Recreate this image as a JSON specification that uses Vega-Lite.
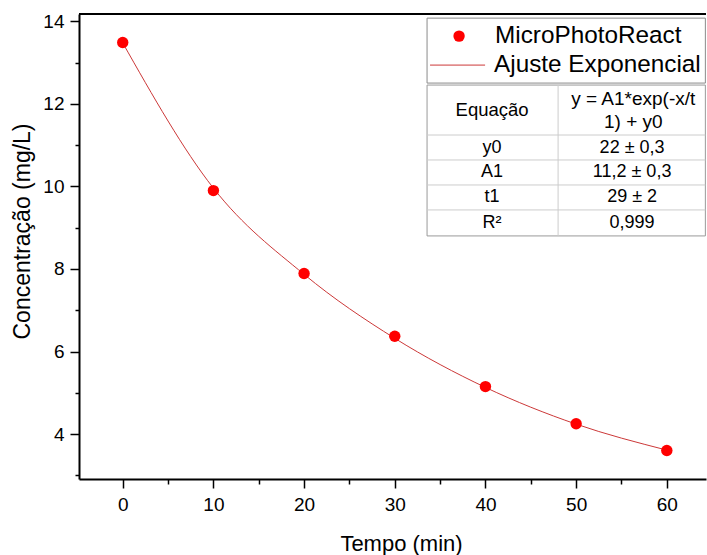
{
  "$schema": "https://vega.github.io/schema/vega-lite/v6.json",
  "width": 627,
  "height": 465,
  "autosize": {"type": "none"},
  "padding": {"left": 79, "top": 14, "right": 1, "bottom": 76},
  "background": "white",
  "config": {
    "view": {"stroke": null},
    "font": "Liberation Sans",
    "text": {"font": "Liberation Sans", "color": "black"},
    "axis": {
      "domainColor": "black",
      "domainWidth": 2,
      "tickColor": "black",
      "tickWidth": 1.5,
      "labelFont": "Liberation Sans",
      "labelFontSize": 19,
      "labelColor": "black",
      "titleFont": "Liberation Sans",
      "titleFontWeight": "normal",
      "titleColor": "black",
      "grid": false,
      "labelOverlap": false,
      "labelFlush": false
    }
  },
  "datasets": {
    "medidas": [
      {"tempo": 0, "conc": 13.49},
      {"tempo": 10, "conc": 9.9},
      {"tempo": 20, "conc": 7.89},
      {"tempo": 30, "conc": 6.37},
      {"tempo": 40, "conc": 5.15},
      {"tempo": 50, "conc": 4.25},
      {"tempo": 60, "conc": 3.6}
    ],
    "ajuste": [
      {"tempo": 0, "conc": 13.48},
      {"tempo": 10, "conc": 9.96},
      {"tempo": 20, "conc": 7.87},
      {"tempo": 30, "conc": 6.32},
      {"tempo": 40, "conc": 5.13},
      {"tempo": 50, "conc": 4.24},
      {"tempo": 60, "conc": 3.61}
    ]
  },
  "layer": [
    {
      "data": {"name": "ajuste"},
      "mark": {"type": "line", "color": "#cc3838", "strokeWidth": 1, "interpolate": "monotone"},
      "encoding": {
        "x": {
          "field": "tempo", "type": "quantitative",
          "scale": {"domain": [-4.82, 64.32], "nice": false, "zero": false},
          "axis": {
            "title": "Tempo (min)",
            "titleFontSize": 22,
            "titleX": 322,
            "values": [0, 5, 10, 15, 20, 25, 30, 35, 40, 45, 50, 55, 60],
            "labelExpr": "datum.value % 10 === 0 ? datum.label : ''",
            "tickSize": {"condition": {"test": "datum.value % 10 === 0", "value": 9}, "value": 5},
            "labelPadding": 7,
            "titlePadding": 19
          }
        },
        "y": {
          "field": "conc", "type": "quantitative",
          "scale": {"domain": [2.91, 14.18], "nice": false, "zero": false},
          "axis": {
            "title": "Concentração (mg/L)",
            "titleFontSize": 23,
            "titleY": 217,
            "values": [3, 4, 5, 6, 7, 8, 9, 10, 11, 12, 13, 14],
            "labelExpr": "datum.value % 2 === 0 ? datum.label : ''",
            "tickSize": {"condition": {"test": "datum.value % 2 === 0", "value": 9}, "value": 4},
            "labelPadding": 6,
            "titlePadding": 8
          }
        }
      }
    },
    {
      "data": {"name": "medidas"},
      "mark": {"type": "point", "filled": true, "color": "#ff0000", "opacity": 1, "size": 130},
      "encoding": {
        "x": {"field": "tempo", "type": "quantitative"},
        "y": {"field": "conc", "type": "quantitative"}
      }
    },
    {
      "data": {"values": [{}]},
      "mark": {"type": "rule", "color": "black", "strokeWidth": 2},
      "encoding": {"y": {"datum": 14.18, "type": "quantitative"}}
    },
    {
      "data": {"values": [{}]},
      "mark": {"type": "rect", "fill": "white", "stroke": "#8a8a8a", "strokeWidth": 1},
      "encoding": {
        "x": {"datum": 33.56, "type": "quantitative"},
        "x2": {"datum": 64.25},
        "y": {"datum": 14.08, "type": "quantitative"},
        "y2": {"datum": 12.506}
      }
    },
    {
      "data": {"values": [{}]},
      "mark": {"type": "point", "filled": true, "color": "#ff0000", "opacity": 1, "size": 130},
      "encoding": {
        "x": {"datum": 37.09, "type": "quantitative"},
        "y": {"datum": 13.644, "type": "quantitative"}
      }
    },
    {
      "data": {"values": [{}]},
      "mark": {"type": "rule", "color": "#cc3838", "strokeWidth": 1},
      "encoding": {
        "x": {"datum": 33.89, "type": "quantitative"},
        "x2": {"datum": 39.96},
        "y": {"datum": 12.942, "type": "quantitative"}
      }
    },
    {
      "data": {"values": [{}]},
      "mark": {"type": "text", "align": "left", "baseline": "middle", "fontSize": 24.3},
      "encoding": {
        "x": {"datum": 41.06, "type": "quantitative"},
        "y": {"datum": 13.644, "type": "quantitative"},
        "text": {"value": "MicroPhotoReact"}
      }
    },
    {
      "data": {"values": [{}]},
      "mark": {"type": "text", "align": "left", "baseline": "middle", "fontSize": 24.3},
      "encoding": {
        "x": {"datum": 40.95, "type": "quantitative"},
        "y": {"datum": 12.942, "type": "quantitative"},
        "text": {"value": "Ajuste Exponencial"}
      }
    },
    {
      "data": {"values": [{}]},
      "mark": {"type": "rect", "fill": "white", "stroke": "#999999", "strokeWidth": 1},
      "encoding": {
        "x": {"datum": 33.56, "type": "quantitative"},
        "x2": {"datum": 64.25},
        "y": {"datum": 12.458, "type": "quantitative"},
        "y2": {"datum": 8.801}
      }
    },
    {
      "data": {"values": [{}]},
      "mark": {"type": "rule", "color": "#cccccc", "strokeWidth": 1},
      "encoding": {
        "x": {"datum": 48.01, "type": "quantitative"},
        "y": {"datum": 12.458, "type": "quantitative"},
        "y2": {"datum": 8.801}
      }
    },
    {
      "data": {"values": [{}]},
      "mark": {"type": "rule", "color": "#cccccc", "strokeWidth": 1},
      "encoding": {
        "x": {"datum": 33.56, "type": "quantitative"},
        "x2": {"datum": 64.25},
        "y": {"datum": 11.247, "type": "quantitative"}
      }
    },
    {
      "data": {"values": [{}]},
      "mark": {"type": "rule", "color": "#cccccc", "strokeWidth": 1},
      "encoding": {
        "x": {"datum": 33.56, "type": "quantitative"},
        "x2": {"datum": 64.25},
        "y": {"datum": 10.642, "type": "quantitative"}
      }
    },
    {
      "data": {"values": [{}]},
      "mark": {"type": "rule", "color": "#cccccc", "strokeWidth": 1},
      "encoding": {
        "x": {"datum": 33.56, "type": "quantitative"},
        "x2": {"datum": 64.25},
        "y": {"datum": 10.036, "type": "quantitative"}
      }
    },
    {
      "data": {"values": [{}]},
      "mark": {"type": "rule", "color": "#cccccc", "strokeWidth": 1},
      "encoding": {
        "x": {"datum": 33.56, "type": "quantitative"},
        "x2": {"datum": 64.25},
        "y": {"datum": 9.431, "type": "quantitative"}
      }
    },
    {
      "data": {"values": [{}]},
      "mark": {"type": "text", "align": "center", "baseline": "middle", "fontSize": 18.5},
      "encoding": {
        "x": {"datum": 40.73, "type": "quantitative"},
        "y": {"datum": 11.852, "type": "quantitative"},
        "text": {"value": "Equação"}
      }
    },
    {
      "data": {"values": [{}]},
      "mark": {"type": "text", "align": "center", "baseline": "middle", "fontSize": 19, "lineHeight": 23, "dy": -11.5},
      "encoding": {
        "x": {"datum": 56.3, "type": "quantitative"},
        "y": {"datum": 11.852, "type": "quantitative"},
        "text": {"value": ["y = A1*exp(-x/t", "1) + y0"]}
      }
    },
    {
      "data": {"values": [{}]},
      "mark": {"type": "text", "align": "center", "baseline": "middle", "fontSize": 18},
      "encoding": {
        "x": {"datum": 40.73, "type": "quantitative"},
        "y": {"datum": 10.944, "type": "quantitative"},
        "text": {"value": "y0"}
      }
    },
    {
      "data": {"values": [{}]},
      "mark": {"type": "text", "align": "center", "baseline": "middle", "fontSize": 18},
      "encoding": {
        "x": {"datum": 56.17, "type": "quantitative"},
        "y": {"datum": 10.944, "type": "quantitative"},
        "text": {"value": "22 ± 0,3"}
      }
    },
    {
      "data": {"values": [{}]},
      "mark": {"type": "text", "align": "center", "baseline": "middle", "fontSize": 18},
      "encoding": {
        "x": {"datum": 40.73, "type": "quantitative"},
        "y": {"datum": 10.339, "type": "quantitative"},
        "text": {"value": "A1"}
      }
    },
    {
      "data": {"values": [{}]},
      "mark": {"type": "text", "align": "center", "baseline": "middle", "fontSize": 18},
      "encoding": {
        "x": {"datum": 56.17, "type": "quantitative"},
        "y": {"datum": 10.339, "type": "quantitative"},
        "text": {"value": "11,2 ± 0,3"}
      }
    },
    {
      "data": {"values": [{}]},
      "mark": {"type": "text", "align": "center", "baseline": "middle", "fontSize": 18},
      "encoding": {
        "x": {"datum": 40.73, "type": "quantitative"},
        "y": {"datum": 9.734, "type": "quantitative"},
        "text": {"value": "t1"}
      }
    },
    {
      "data": {"values": [{}]},
      "mark": {"type": "text", "align": "center", "baseline": "middle", "fontSize": 18},
      "encoding": {
        "x": {"datum": 56.17, "type": "quantitative"},
        "y": {"datum": 9.734, "type": "quantitative"},
        "text": {"value": "29 ± 2"}
      }
    },
    {
      "data": {"values": [{}]},
      "mark": {"type": "text", "align": "center", "baseline": "middle", "fontSize": 18},
      "encoding": {
        "x": {"datum": 40.73, "type": "quantitative"},
        "y": {"datum": 9.116, "type": "quantitative"},
        "text": {"value": "R²"}
      }
    },
    {
      "data": {"values": [{}]},
      "mark": {"type": "text", "align": "center", "baseline": "middle", "fontSize": 18},
      "encoding": {
        "x": {"datum": 56.17, "type": "quantitative"},
        "y": {"datum": 9.116, "type": "quantitative"},
        "text": {"value": "0,999"}
      }
    }
  ]
}
